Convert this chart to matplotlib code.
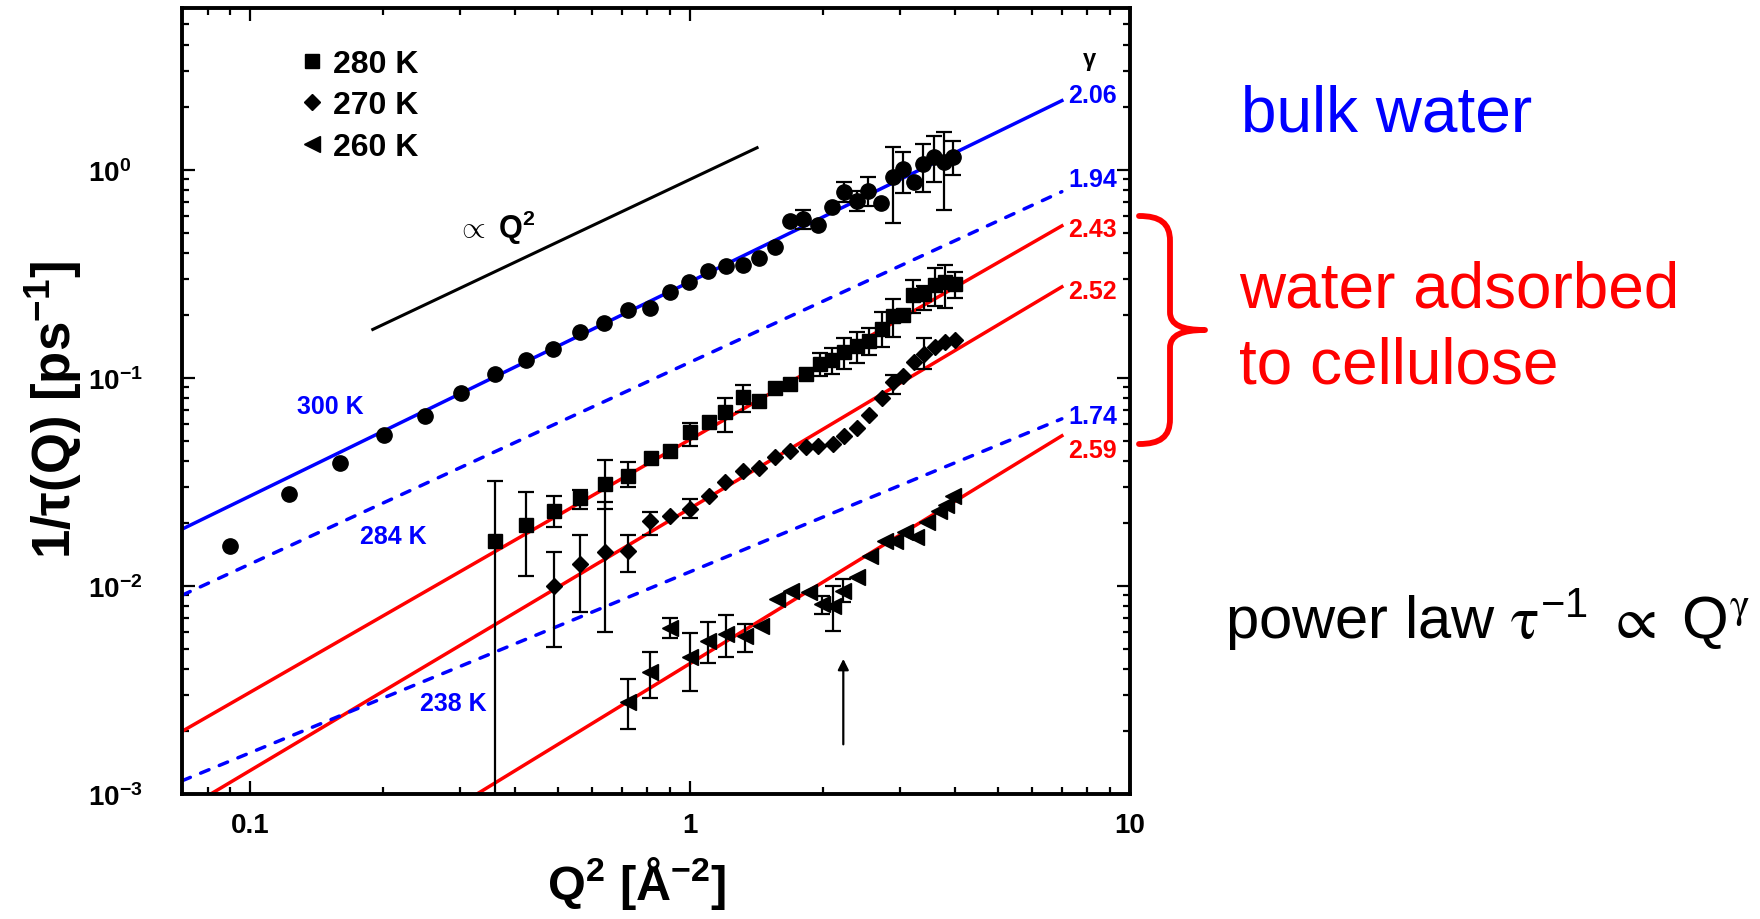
import numpy as np
import matplotlib
matplotlib.use('Agg')
from matplotlib import pyplot as plt
from matplotlib.path import Path
from matplotlib.patches import PathPatch
from matplotlib.ticker import NullFormatter

plt.rcParams['font.family'] = ['Liberation Sans', 'DejaVu Sans']
plt.rcParams['mathtext.fontset'] = 'custom'
plt.rcParams['mathtext.rm'] = 'Liberation Sans'
plt.rcParams['mathtext.it'] = 'Liberation Sans:italic'
plt.rcParams['mathtext.bf'] = 'Liberation Sans:bold'

nan = np.nan

# ---------------- data ----------------
# bulk water, circles
circ_q2 = [0.090, 0.1225, 0.160, 0.202, 0.250, 0.302, 0.360, 0.423, 0.489, 0.562,
           0.638, 0.722, 0.811, 0.898, 0.996, 1.10, 1.21, 1.32, 1.435, 1.56,
           1.69, 1.81, 1.957, 2.10, 2.24, 2.40, 2.54, 2.72, 2.89, 3.05,
           3.23, 3.39, 3.59, 3.78, 3.97]
circ_rate = [0.0155, 0.0278, 0.039, 0.0532, 0.0655, 0.0848, 0.104, 0.1225, 0.138, 0.166,
             0.184, 0.212, 0.217, 0.258, 0.288, 0.326, 0.344, 0.350, 0.379, 0.428,
             0.570, 0.581, 0.545, 0.662, 0.787, 0.711, 0.790, 0.692, 0.923, 1.01,
             0.879, 1.069, 1.15, 1.09, 1.15]
circ_lo = [nan] * 21 + [0.520, nan, nan, 0.70, 0.637, 0.673, nan, 0.556, 0.775,
                        nan, 0.787, 0.873, 0.644, 0.946]
circ_hi = [nan] * 21 + [0.644, nan, nan, 0.873, 0.795, 0.923, nan, 1.295, 1.216,
                        nan, 1.33, 1.46, 1.517, 1.38]

# 280 K, squares
sq_q2 = [0.360, 0.423, 0.491, 0.562, 0.641, 0.724, 0.814, 0.901, 1.00, 1.106,
         1.20, 1.32, 1.437, 1.56, 1.69, 1.83, 1.97, 2.10, 2.24, 2.39,
         2.55, 2.73, 2.89, 3.05, 3.22, 3.40, 3.60, 3.80, 4.00]
sq_rate = [0.0165, 0.0196, 0.0230, 0.0264, 0.0309, 0.0339, 0.0411, 0.0447, 0.0552, 0.0612,
           0.0684, 0.0807, 0.0778, 0.0892, 0.0936, 0.1046, 0.1168, 0.1225, 0.1335, 0.143,
           0.151, 0.172, 0.198, 0.201, 0.249, 0.254, 0.280, 0.289, 0.283]
sq_lo = [0.0005, 0.0112, 0.0192, 0.0235, 0.0235, 0.0300, nan, nan, 0.0473, nan,
         0.0552, 0.0684, nan, nan, nan, nan, 0.1026, 0.1046, 0.1105, 0.118,
         0.129, 0.141, 0.157, nan, 0.205, 0.211, 0.221, 0.216, 0.241]
sq_hi = [0.0321, 0.0282, 0.0270, 0.0290, 0.0405, 0.0396, nan, nan, 0.0608, nan,
         0.0799, 0.0925, nan, nan, nan, nan, 0.1318, 0.139, 0.155, 0.166,
         0.174, 0.208, 0.240, nan, 0.294, 0.278, 0.337, 0.350, 0.324]

# 270 K, diamonds
dia_q2 = [0.491, 0.562, 0.641, 0.724, 0.811, 0.898, 1.00, 1.106, 1.20, 1.32,
          1.437, 1.56, 1.69, 1.835, 1.957, 2.11, 2.24, 2.39, 2.556, 2.73,
          2.89, 3.05, 3.23, 3.40, 3.60, 3.80, 4.00]
dia_rate = [0.00997, 0.01276, 0.01452, 0.01478, 0.0206, 0.0216, 0.0235, 0.0272, 0.0315, 0.0358,
            0.0368, 0.0416, 0.0447, 0.0464, 0.0473, 0.0482, 0.0525, 0.0573, 0.0665, 0.0798,
            0.0953, 0.1026, 0.119, 0.130, 0.141, 0.149, 0.153]
dia_lo = [0.00507, 0.00752, 0.00599, 0.01172, 0.0176, nan, 0.0211] + [nan] * 13 + \
         [0.0837, nan, nan, 0.110, nan, nan, nan]
dia_hi = [0.01462, 0.0176, 0.0253, 0.0176, 0.0226, nan, 0.0262] + [nan] * 13 + \
         [0.1036, nan, nan, 0.155, nan, nan, nan]

# 260 K, triangles
tri_q2 = [0.724, 0.811, 0.901, 1.00, 1.10, 1.21, 1.33, 1.447, 1.575, 1.70,
          1.86, 1.99, 2.11, 2.23, 2.39, 2.56, 2.77, 2.92, 3.08, 3.26,
          3.45, 3.68, 3.82, 3.97]
tri_rate = [0.00276, 0.00385, 0.00626, 0.00454, 0.00546, 0.00588, 0.00577, 0.00644, 0.00866, 0.0095,
            0.00933, 0.0082, 0.00804, 0.0095, 0.0110, 0.0140, 0.0165, 0.0165, 0.0181, 0.01715,
            0.0202, 0.0230, 0.0245, 0.0272]
tri_lo = [0.00205, 0.00288, 0.00561, 0.00311, 0.00427, 0.00454, 0.00483, nan, nan, nan,
          nan, 0.00733, 0.0061, 0.00835] + [nan] * 10
tri_hi = [0.00357, 0.0048, 0.0070, 0.00594, 0.0067, 0.00726, 0.00656, nan, nan, nan,
          nan, 0.00898, 0.00997, 0.0108] + [nan] * 10

# power law fits: rate = amp * (Q^2)^(gamma/2)
fit_gamma = [2.06, 1.94, 2.43, 2.52, 1.74, 2.59]
fit_amp = [0.29, 0.119, 0.0506, 0.0236, 0.0117, 0.00424]
fit_color = ['#0000ff', '#0000ff', '#ff0000', '#ff0000', '#0000ff', '#ff0000']
fit_dashed = [False, True, False, False, True, False]
fit_label_shift = [1.06, 1.15, 0.97, 0.96, 1.03, 0.85]

temp_labels = ['300 K', '284 K', '238 K']
temp_pos = [(0.128, 0.0733), (0.178, 0.01738), (0.243, 0.00274)]

legend_labels = ['280 K', '270 K', '260 K']

# ---------------- figure ----------------
W, H = 1760, 920
fig = plt.figure(figsize=(W / 100, H / 100), dpi=100)
ax = fig.add_axes([182 / W, 125 / H, 948 / W, 786 / H])
ax.set_xscale('log')
ax.set_yscale('log')
ax.set_xlim(0.07, 10)
ax.set_ylim(1e-3, 6)

q_fit = np.array([0.07, 7.0])
for g, a, c, dsh in zip(fit_gamma, fit_amp, fit_color, fit_dashed):
    if dsh:
        ax.plot(q_fit, a * q_fit ** (g / 2), color=c, lw=2.5, ls=(0, (2.6, 3.2)),
                dash_capstyle='round', zorder=2)
    else:
        ax.plot(q_fit, a * q_fit ** (g / 2), color=c, lw=2.5, zorder=2)

for g, a, c, f in zip(fit_gamma, fit_amp, fit_color, fit_label_shift):
    ax.text(7.25, a * 7.0 ** (g / 2) * f, f'{g:.2f}', color=c, fontsize=18,
            fontweight='bold', ha='left', va='center')
ax.text(8.1, 3.42, 'γ', fontsize=17, fontweight='bold', ha='center', va='center')

# slope-1 guide line
q_guide = np.array([0.19, 1.42])
ax.plot(q_guide, 0.9 * q_guide, color='black', lw=2.2)
ax.text(0.362, 0.532, r'$\propto$ Q$^{\mathdefault{2}}$', fontsize=22, fontweight='bold',
        ha='center', va='center')


def draw_series(q2, rate, lo, hi, marker, ms):
    q2 = np.array(q2)
    rate = np.array(rate)
    lo = np.array(lo)
    hi = np.array(hi)
    m = np.isfinite(lo)
    ax.errorbar(q2[m], rate[m], yerr=[rate[m] - lo[m], hi[m] - rate[m]], fmt='none',
                ecolor='black', elinewidth=1.6, capsize=5.5, capthick=1.6, zorder=3)
    return ax.plot(q2, rate, ls='none', marker=marker, ms=ms, color='black', zorder=4)[0]


draw_series(circ_q2, circ_rate, circ_lo, circ_hi, 'o', 11)
h_sq = draw_series(sq_q2, sq_rate, sq_lo, sq_hi, 's', 9.5)
h_dia = draw_series(dia_q2, dia_rate, dia_lo, dia_hi, 'D', 8.5)
h_tri = draw_series(tri_q2, tri_rate, tri_lo, tri_hi, '<', 11)

for lab, (x, y) in zip(temp_labels, temp_pos):
    ax.text(x, y, lab, color='#0000ff', fontsize=18, fontweight='bold',
            ha='left', va='center')

ax.annotate('', xy=(2.23, 0.0046), xytext=(2.23, 0.00168),
            arrowprops=dict(arrowstyle='-|>', color='black', lw=1.6, mutation_scale=16))

ax.legend([h_sq, h_dia, h_tri], legend_labels, loc='upper left',
          bbox_to_anchor=(0.1235, 0.948), frameon=False,
          prop={'size': 23, 'weight': 'bold'},
          handlelength=0.8, handletextpad=0.25, labelspacing=0.36,
          borderpad=0, borderaxespad=0)

# axes styling
for sp in ax.spines.values():
    sp.set_linewidth(2.8)
ax.set_xticks([0.1, 1, 10])
ax.set_xticklabels(['0.1', '1', '10'])
ax.xaxis.set_minor_formatter(NullFormatter())
ax.set_yticks([1e-3, 1e-2, 1e-1, 1])
ax.yaxis.set_minor_formatter(NullFormatter())
ax.tick_params(which='both', direction='in', top=True, right=True, width=1.6)
ax.tick_params(which='major', length=9.5)
ax.tick_params(which='minor', length=5)
ax.tick_params(axis='x', labelsize=20, pad=13)
ax.tick_params(axis='y', labelsize=20, pad=68)
plt.setp(ax.get_yticklabels(), ha='left', fontweight='bold')
plt.setp(ax.get_xticklabels(), fontweight='bold')

fig.text(54 / W, 1 - 410 / H, r'1/τ(Q) [ps$^{\mathdefault{-1}}$]', fontsize=38,
         fontweight='bold', rotation=90, ha='center', va='center')
fig.text(637 / W, 1 - 884 / H, r'Q$^{\mathdefault{2}}$ [Å$^{\mathdefault{-2}}$]',
         fontsize=35, fontweight='bold', ha='center', va='center')

# annotations on the right
fig.text(1241 / W, 1 - 132 / H, 'bulk water', color='#0000ff', fontsize=46, va='baseline')
fig.text(1239 / W, 1 - 308 / H, 'water adsorbed', color='#ff0000', fontsize=46, va='baseline')
fig.text(1239 / W, 1 - 384 / H, 'to cellulose', color='#ff0000', fontsize=46, va='baseline')
fig.text(1225 / W, 1 - 639 / H,
         r'power law $\mathrm{\tau}^{\mathdefault{-1}}$ $\propto$ Q$^{\mathrm{\gamma}}$',
         color='black', fontsize=43, va='baseline', math_fontfamily='stix')

# red curly brace
brace_px = [(1139, 217), (1160, 217), (1170, 224), (1170, 242),
            (1170, 313),
            (1170, 326), (1182, 331), (1205, 331),
            (1182, 331), (1170, 336), (1170, 349),
            (1170, 420),
            (1170, 438), (1160, 445), (1139, 445)]
codes = [Path.MOVETO, Path.CURVE4, Path.CURVE4, Path.CURVE4,
         Path.LINETO,
         Path.CURVE4, Path.CURVE4, Path.CURVE4,
         Path.CURVE4, Path.CURVE4, Path.CURVE4,
         Path.LINETO,
         Path.CURVE4, Path.CURVE4, Path.CURVE4]
verts = [(x / W, 1 - y / H) for x, y in brace_px]
fig.add_artist(PathPatch(Path(verts, codes), transform=fig.transFigure, fill=False,
                         edgecolor='#ff0000', lw=4.2, capstyle='round', joinstyle='round'))

fig.savefig('out.png', dpi=100)
